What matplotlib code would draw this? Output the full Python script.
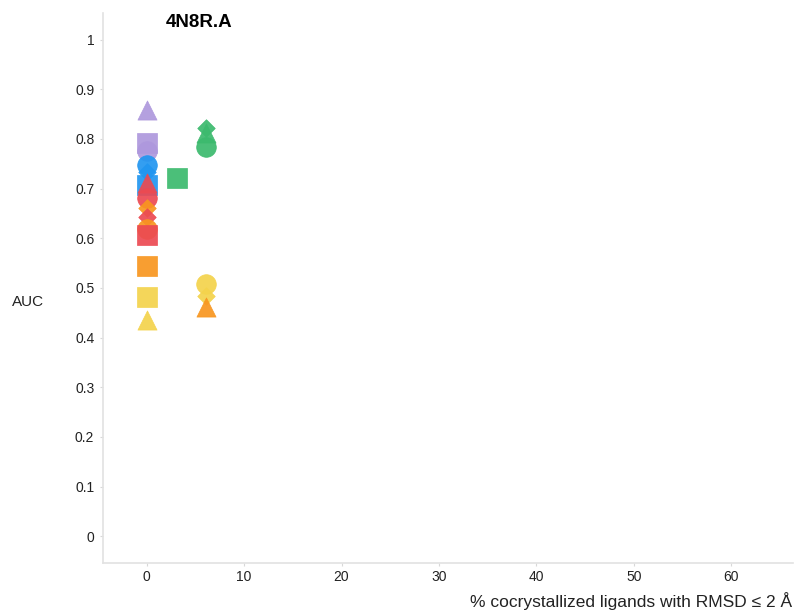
import matplotlib
matplotlib.use("Agg")
import matplotlib.pyplot as plt

plt.rcParams['font.family'] = ['Liberation Sans', 'DejaVu Sans']

# colours per scoring method
colors = {
    "purple": "#ae98dd",
    "blue": "#2196f0",
    "red": "#ec4a52",
    "orange": "#f8961f",
    "yellow": "#f4d34c",
    "green": "#3cba6e",
}

# (colour, marker, x = % ligands RMSD <= 2 A, y = AUC)
point_color = ["purple", "purple", "purple", "blue", "blue", "blue",
               "red", "red", "orange", "red", "orange", "red",
               "orange", "yellow", "yellow",
               "green", "green", "green", "green",
               "yellow", "yellow", "orange"]
point_marker = ["^", "s", "o", "o", "D", "s",
                "^", "o", "D", "D", "o", "s",
                "s", "s", "^",
                "s", "D", "^", "o",
                "o", "D", "^"]
point_x = [0, 0, 0, 0, 0, 0,
           0, 0, 0, 0, 0, 0,
           0, 0, 0,
           3.1, 6.1, 6.1, 6.1,
           6.1, 6.1, 6.1]
point_y = [0.859, 0.792, 0.776, 0.748, 0.734, 0.708,
           0.712, 0.681, 0.661, 0.643, 0.619, 0.607,
           0.544, 0.482, 0.435,
           0.721, 0.823, 0.812, 0.784,
           0.508, 0.484, 0.462]

sizes = {"s": 190, "o": 200, "^": 190, "D": 80}

fig = plt.figure(figsize=(7.96, 6.12), dpi=100)
ax = fig.add_axes([0.129, 0.080, 0.867, 0.899])

for c, m, x, y in zip(point_color, point_marker, point_x, point_y):
    ax.scatter(x, y, marker=m, s=sizes[m], color=colors[c],
               edgecolors=colors[c], linewidths=0.5, alpha=0.92, zorder=3)

ax.set_xlim(-4.5, 66.3)
ax.set_ylim(-0.054, 1.054)
ax.set_xticks([0, 10, 20, 30, 40, 50, 60])
ax.set_yticks([0, 0.1, 0.2, 0.3, 0.4, 0.5, 0.6, 0.7, 0.8, 0.9, 1])
ax.set_yticklabels(["0", "0.1", "0.2", "0.3", "0.4", "0.5", "0.6",
                    "0.7", "0.8", "0.9", "1"])

for side in ["top", "right"]:
    ax.spines[side].set_visible(False)
for side in ["left", "bottom"]:
    ax.spines[side].set_color("#e2e2e2")
    ax.spines[side].set_linewidth(1.2)

ax.tick_params(axis="both", length=2, color="#d8d8d8", labelsize=10,
               labelcolor="#222222")
ax.tick_params(axis="x", pad=3)
ax.tick_params(axis="y", pad=4)

fig.text(0.250, 0.963, "4N8R.A", fontsize=13.5, fontweight="bold",
         ha="center", va="center")
fig.text(0.015, 0.507, "AUC", fontsize=11, ha="left", va="center",
         color="#222222")
fig.text(0.995, 0.003, "% cocrystallized ligands with RMSD \u2264 2 \u00c5",
         fontsize=12.5, ha="right", va="bottom", color="#222222")

fig.savefig("out.png", dpi=100)
